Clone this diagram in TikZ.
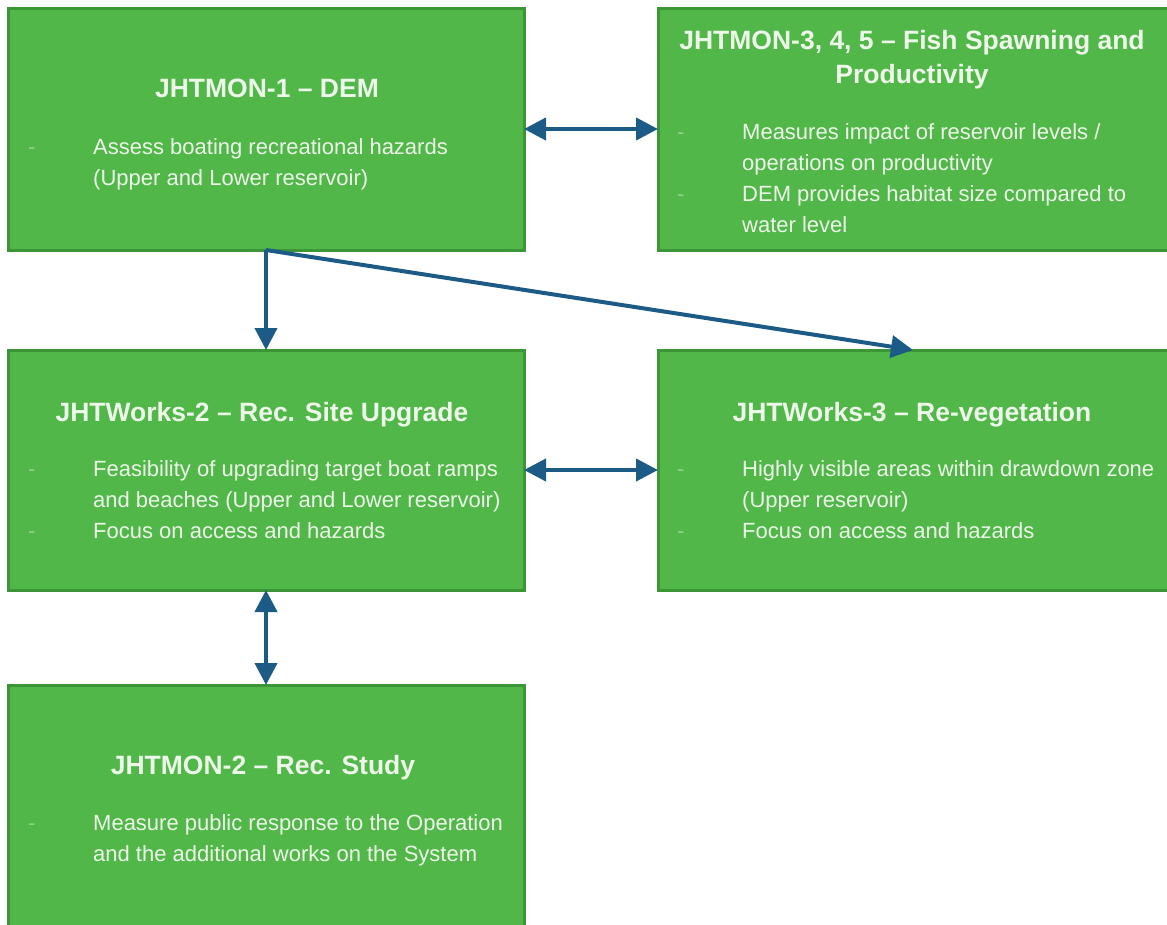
\documentclass[tikz,border=0pt]{standalone}
\usepackage{fontspec}
\setmainfont{Liberation Sans}
\usetikzlibrary{arrows.meta}
\definecolor{boxfill}{HTML}{50B748}
\definecolor{boxline}{HTML}{3C9636}
\definecolor{arrowblue}{HTML}{1C5B86}
\definecolor{txt}{HTML}{EEF8EA}
\definecolor{dashc}{HTML}{90D08A}
\tikzset{
  box/.style={rectangle, fill=boxfill, draw=boxline, line width=3pt, inner sep=0pt, outer sep=0pt},
  ttl/.style={anchor=base, inner sep=0pt, text=txt, font=\fontsize{26.5}{33}\selectfont\bfseries},
  body/.style={anchor=base west, inner sep=0pt, text=txt, font=\fontsize{22}{31}\selectfont},
  bul/.style={anchor=base west, inner sep=0pt, text=dashc, font=\fontsize{22}{31}\selectfont},
  link/.style={draw=arrowblue, line width=4pt, -{Triangle[length=22pt,width=22pt]}},
  dlink/.style={draw=arrowblue, line width=4pt, {Triangle[length=22pt,width=22pt]}-{Triangle[length=22pt,width=22pt]}}
}
\begin{document}
\begin{tikzpicture}[x=1pt,y=-1pt]
\useasboundingbox (0,0) rectangle (1167,924);
% boxes
\node[box, minimum width=516pt, minimum height=242pt] (b1) at (266,129) {};
\node[box, minimum width=510pt, minimum height=242pt] (b2) at (913,129) {};
\node[box, minimum width=516pt, minimum height=240pt] (b3) at (266,470) {};
\node[box, minimum width=510pt, minimum height=240pt] (b4) at (913,470) {};
\node[box, minimum width=516pt, minimum height=241pt] (b5) at (266,805.5) {};
% box 1
\node[ttl] (t1) at (267,97) {JHTMON-1 – DEM};
\node[bul] (d1a) at (28,154) {-};
\node[body] (l1a) at (93,154) {Assess boating recreational hazards};
\node[body] (l1b) at (93,185) {(Upper and Lower reservoir)};
% box 2
\node[ttl] (t2a) at (912,49) {JHTMON-3, 4, 5 – Fish Spawning and};
\node[ttl] (t2b) at (912,83) {Productivity};
\node[bul] (d2a) at (677,139) {-};
\node[body] (l2a) at (742,139) {Measures impact of reservoir levels /};
\node[body] (l2b) at (742,170) {operations on productivity};
\node[bul] (d2c) at (677,201) {-};
\node[body] (l2c) at (742,201) {DEM provides habitat size compared to};
\node[body] (l2d) at (742,232) {water level};
% box 3
\node[ttl] (t3) at (262,421) {JHTWorks-2 – Rec. Site Upgrade};
\node[bul] (d3a) at (28,476) {-};
\node[body] (l3a) at (93,476) {Feasibility of upgrading target boat ramps};
\node[body] (l3b) at (93,507) {and beaches (Upper and Lower reservoir)};
\node[bul] (d3c) at (28,538) {-};
\node[body] (l3c) at (93,538) {Focus on access and hazards};
% box 4
\node[ttl] (t4) at (912,421) {JHTWorks-3 – Re-vegetation};
\node[bul] (d4a) at (677,476) {-};
\node[body] (l4a) at (742,476) {Highly visible areas within drawdown zone};
\node[body] (l4b) at (742,507) {(Upper reservoir)};
\node[bul] (d4c) at (677,538) {-};
\node[body] (l4c) at (742,538) {Focus on access and hazards};
% box 5
\node[ttl] (t5) at (263,774) {JHTMON-2 – Rec. Study};
\node[bul] (d5a) at (28,830) {-};
\node[body] (l5a) at (93,830) {Measure public response to the Operation};
\node[body] (l5b) at (93,861) {and the additional works on the System};
% connectors
\path[dlink] (b1.east) -- (b2.west);
\path[link] (b1.south) -- (b3.north);
\path[link] (b1.south) -- (b4.north);
\path[dlink] (b3.east) -- (b4.west);
\path[dlink] (b3.south) -- (b5.north);
\end{tikzpicture}
\end{document}
